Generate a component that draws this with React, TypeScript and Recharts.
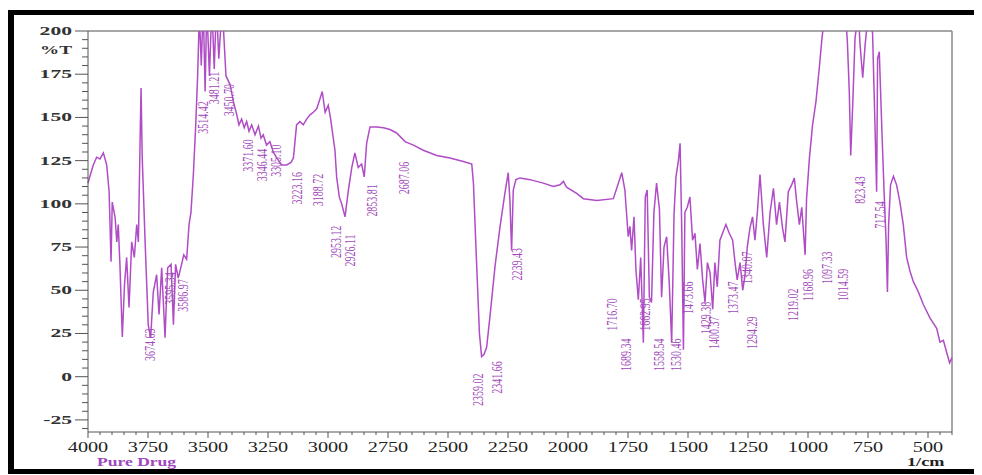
import { LineChart, Line, XAxis, YAxis, ReferenceLine, ReferenceDot } from 'recharts'

// FTIR spectrum, wavenumber (1/cm) vs %T
const wavenumbers = [
  4000, 3992, 3978, 3964, 3950, 3936, 3922, 3912, 3904, 3899, 3887, 3880, 3874, 3867, 3857, 3848,
  3839, 3829, 3818, 3807, 3797, 3790, 3783, 3779, 3774, 3762, 3749, 3739, 3728, 3714, 3704, 3693,
  3679, 3668, 3654, 3644, 3635, 3624, 3610, 3601, 3589, 3579, 3571, 3561, 3551, 3543, 3536, 3528,
  3520, 3512, 3505, 3494, 3484, 3474, 3465, 3455, 3441, 3425, 3408, 3394, 3380, 3371, 3360, 3349,
  3339, 3329, 3318, 3304, 3290, 3279, 3270, 3256, 3242, 3228, 3214, 3193, 3172, 3154, 3144, 3131,
  3117, 3103, 3089, 3075, 3061, 3047, 3033, 3024, 3012, 2999, 2990, 2971, 2964, 2953, 2943, 2929,
  2915, 2901, 2888, 2874, 2860, 2849, 2839, 2825, 2797, 2769, 2742, 2714, 2679, 2644, 2603, 2547,
  2492, 2436, 2401, 2394, 2383, 2369, 2360, 2350, 2339, 2325, 2304, 2283, 2263, 2249, 2242, 2235,
  2228, 2217, 2200, 2158, 2103, 2061, 2033, 2019, 2006, 1964, 1936, 1880, 1811, 1776, 1763, 1749,
  1742, 1735, 1725, 1717, 1707, 1697, 1686, 1678, 1670, 1661, 1652, 1642, 1631, 1619, 1610, 1600,
  1589, 1578, 1568, 1558, 1550, 1540, 1533, 1526, 1519, 1513, 1503, 1492, 1481, 1471, 1461, 1450,
  1439, 1429, 1419, 1408, 1397, 1388, 1378, 1367, 1356, 1342, 1328, 1314, 1304, 1295, 1283, 1272,
  1263, 1253, 1242, 1231, 1221, 1211, 1200, 1186, 1172, 1158, 1144, 1131, 1119, 1106, 1096, 1082,
  1068, 1057, 1047, 1036, 1026, 1019, 1012, 1006, 994, 981, 967, 953, 943, 936, 922, 905,
  885, 866, 846, 836, 828, 822, 814, 804, 790, 783, 772, 762, 749, 731, 721, 714,
  710, 703, 693, 683, 675, 669, 664, 656, 644, 631, 617, 603, 589, 575, 561, 540,
  519, 492, 464, 450, 436, 420, 410, 400,
]

const transmittance = [
  112, 116, 122.5, 127, 126, 129.5, 122.5, 107, 66.5, 101, 92, 78, 88, 65, 23, 53,
  69, 40, 78, 69, 88, 78, 136, 167, 126.5, 78, 30, 22.5, 49, 59, 36, 63,
  22.5, 63, 65, 30, 65, 57, 65, 70.5, 68, 88, 95, 117, 146, 175, 210, 180,
  215, 165, 215, 174, 215, 178, 215, 184, 215, 174, 169, 159, 151.5, 145.7, 149, 144,
  147.6, 142, 145.7, 140, 145, 138, 140, 134, 136, 130, 126.6, 122.5, 122.5, 124, 126.6, 145.7,
  147.6, 145.7, 149, 151.5, 153, 155, 161, 165, 153, 157, 150, 131, 115.6, 104, 100, 92.5,
  108, 121, 129.5, 121, 123, 115.6, 135, 144.5, 144.5, 144, 143, 141, 136, 134, 131, 128,
  126.5, 124.5, 123, 112, 73, 25, 11.6, 13, 17, 35, 64, 87, 106, 118, 102, 73,
  108, 114, 115, 114, 112, 110, 111, 113, 109.6, 106, 103, 102, 103, 118, 108, 81,
  87, 73, 92.5, 62, 44.5, 69, 19.6, 104, 108, 46, 43, 95, 112, 97, 46, 75,
  81, 54, 19.6, 95, 115.6, 125, 135, 85, 15.6, 95, 98, 104, 79, 83, 62, 77,
  56, 43, 66, 60, 39, 66, 52, 79, 83, 88, 83, 79, 66, 56, 66, 50,
  58, 75, 86, 92.5, 79, 95, 117, 88, 69, 95, 109, 88, 101, 86, 78, 107,
  111, 115, 101, 88, 98, 84, 70.5, 103, 126.6, 145.7, 159, 178.6, 194, 203, 215, 212,
  216, 210, 214, 194, 165, 128, 156, 196, 210, 192, 173, 192, 210, 199, 146, 107,
  184, 188, 146, 107, 80, 49, 88, 111, 116, 111, 101, 88, 69, 61, 55, 49,
  41.6, 34, 28, 20, 21, 13, 8, 11,
]

// peak annotations printed by the instrument
const peakLabels = [
  '3674.63', '3595.34', '3586.97', '3514.42', '3481.21', '3450.70', '3371.60', '3346.44',
  '3305.10', '3223.16', '3188.72', '2953.12', '2926.11', '2853.81', '2687.06', '2359.02',
  '2341.66', '2239.43', '1716.70', '1689.34', '1662.95', '1558.54', '1530.46', '1473.66',
  '1429.38', '1400.37', '1373.47', '1340.07', '1294.29', '1219.02', '1168.96', '1097.33',
  '1014.59', '823.43', '717.54',
]
const peakLabelX = [
  3742, 3658, 3604, 3521, 3475, 3412, 3333, 3275, 3217, 3129, 3042, 2963, 2908, 2817, 2683, 2375,
  2296, 2212, 1817, 1758, 1679, 1621, 1550, 1500, 1425, 1392, 1312, 1254, 1233, 1062, 1000, 921,
  854, 783, 700,
]
const peakLabelY = [
  18.5, 51, 47, 150, 167, 160, 128, 122.5, 125, 109, 108, 78, 73, 102, 115, -7.5,
  -0.5, 65, 36, 12.7, 36, 12.7, 12.7, 45.7, 34, 25.4, 45.7, 63, 25.4, 41.6, 53, 63,
  53, 108, 93.6,
]

const xMajorTicks = [4000, 3750, 3500, 3250, 3000, 2750, 2500, 2250, 2000, 1750, 1500, 1250, 1000, 750, 500]
const yMajorTicks = [-25, 0, 25, 50, 75, 100, 125, 150, 175, 200]

const xTicks = Array.from({ length: 73 }, (_, i) => 400 + i * 50)
const yTicks = Array.from({ length: 47 }, (_, i) => -30 + i * 5)

const data = wavenumbers.map((wn, i) => ({ wn, t: transmittance[i] }))

const FONT = '"Liberation Serif", "Times New Roman", serif'
const LINE_COLOR = '#b04cc6'
const AXIS_COLOR = '#555'

function XTick({ x, y, payload }: any) {
  const v = payload.value
  const major = xMajorTicks.includes(v)
  return (
    <g>
      <line x1={x} x2={x} y1={y} y2={y + (major ? 6 : 3)} stroke={AXIS_COLOR} strokeWidth={1} />
      {major && (
        <text
          transform={`translate(${x},${y + 20}) scale(1.35,1)`}
          textAnchor="middle"
          fontSize={15}
          fontFamily={FONT}
          fill="#222"
        >
          {v}
        </text>
      )}
    </g>
  )
}

function YTick({ x, y, payload }: any) {
  const v = payload.value
  const major = yMajorTicks.includes(v)
  return (
    <g>
      <line x1={x - (major ? 13 : 6)} x2={x} y1={y} y2={y} stroke={AXIS_COLOR} strokeWidth={1} />
      {major && (
        <text
          transform={`translate(${x - 16},${y + 4}) scale(1.8,1)`}
          textAnchor="end"
          fontSize={12}
          fontWeight="bold"
          fontFamily={FONT}
          fill="#333"
        >
          {v}
        </text>
      )}
    </g>
  )
}

function PeakText({ cx, cy, text }: any) {
  return (
    <text
      transform={`translate(${cx},${cy}) scale(1.4,1) rotate(-90)`}
      textAnchor="middle"
      dominantBaseline="central"
      fontSize={10}
      fontFamily={FONT}
      fill="#a048b8"
    >
      {text}
    </text>
  )
}

export default function App() {
  return (
    <div
      style={{
        position: 'relative',
        width: 974,
        height: 466,
        background: '#fff',
        fontFamily: FONT,
        overflow: 'hidden',
      }}
    >
      <style>{'body { overflow: hidden; }'}</style>
      <div
        style={{
          position: 'absolute',
          left: 0,
          top: 2,
          width: 990,
          height: 464,
          boxSizing: 'border-box',
          borderLeft: '6px solid #000',
          borderTop: '5px solid #000',
          borderBottom: '5px solid #000',
        }}
      />
      <div style={{ position: 'absolute', left: 0, top: 0 }}>
        <LineChart width={974} height={466} data={data} margin={{ top: 23, right: 30, bottom: 12, left: 20 }}>
          <XAxis
            type="number"
            dataKey="wn"
            domain={[400, 4000]}
            reversed
            ticks={xTicks}
            interval={0}
            tickSize={0}
            tickMargin={0}
            tickLine={false}
            height={30}
            stroke={AXIS_COLOR}
            tick={<XTick />}
          />
          <YAxis
            type="number"
            domain={[-32, 200]}
            allowDataOverflow
            ticks={yTicks}
            interval={0}
            tickSize={0}
            tickMargin={0}
            tickLine={false}
            width={60}
            stroke={AXIS_COLOR}
            tick={<YTick />}
          />
          <ReferenceLine y={200} stroke="#888" strokeWidth={1.5} />
          <ReferenceLine x={400} stroke="#888" strokeWidth={1.5} />
          <Line
            type="linear"
            dataKey="t"
            stroke={LINE_COLOR}
            strokeWidth={1.5}
            dot={false}
            isAnimationActive={false}
          />
          {peakLabels.map((label, i) => (
            <ReferenceDot
              key={label}
              x={peakLabelX[i]}
              y={peakLabelY[i]}
              r={0}
              shape={(p: any) => <PeakText cx={p.cx} cy={p.cy} text={label} />}
            />
          ))}
        </LineChart>
      </div>
      <div
        style={{
          position: 'absolute',
          left: 32,
          top: 35,
          fontSize: 12,
          fontWeight: 'bold',
          color: '#333',
          transform: 'scaleX(1.6)',
          transformOrigin: 'left top',
        }}
      >
        %T
      </div>
      <div
        style={{
          position: 'absolute',
          left: 89,
          top: 446,
          fontSize: 13,
          fontWeight: 'bold',
          color: '#a048c0',
          transform: 'scaleX(1.35)',
          transformOrigin: 'left top',
          whiteSpace: 'nowrap',
        }}
      >
        Pure Drug
      </div>
      <div
        style={{
          position: 'absolute',
          left: 899,
          top: 446,
          fontSize: 13,
          fontWeight: 'bold',
          color: '#222',
          transform: 'scaleX(1.4)',
          transformOrigin: 'left top',
        }}
      >
        1/cm
      </div>
    </div>
  )
}
